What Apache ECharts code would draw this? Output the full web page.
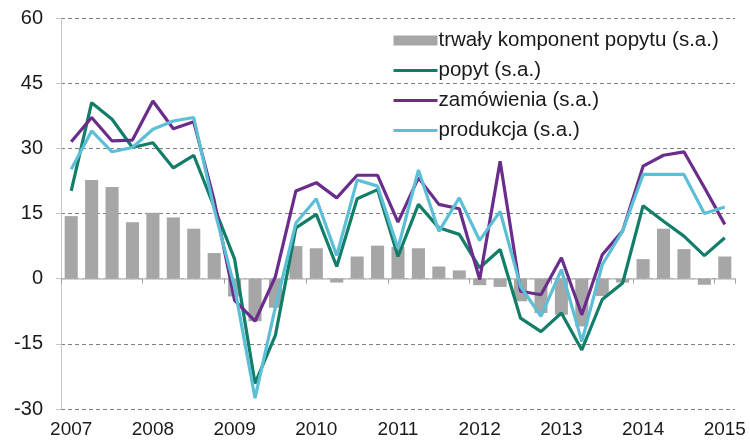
<!DOCTYPE html>
<html>
<head>
<meta charset="utf-8">
<script src="https://cdn.jsdelivr.net/npm/echarts@6/dist/echarts.min.js"></script>
<style>
  html, body { margin: 0; padding: 0; background: #fff; }
  #chart { width: 750px; height: 441px; }
</style>
</head>
<body>
<div id="chart"></div>
<script>
// kwartaly 2007Q1 - 2015Q1
var years = ['2007', '2008', '2009', '2010', '2011', '2012', '2013', '2014', '2015'];
var quarters = [];
for (var y = 0; y < years.length; y++) {
    for (var q = 1; q <= 4; q++) {
        if (years[y] === '2015' && q > 1) break;
        quarters.push(years[y] + ' Q' + q);
    }
}

var seriesNames = ['trwały komponent popytu (s.a.)', 'popyt (s.a.)', 'zamówienia (s.a.)', 'produkcja (s.a.)'];

var trwaly = [14.4, 22.7, 21.1, 13.0, 15.2, 14.1, 11.5, 5.9, -4.1, -9.8, -6.7, 7.5, 7.0, -0.9, 5.1, 7.6,
    7.3, 7.0, 2.8, 1.9, -1.5, -1.9, -5.2, -7.9, -8.3, -11.0, -4.0, -0.9, 4.5, 11.5, 6.8, -1.4, 5.1];
var popyt = [20.2, 40.5, 36.7, 30.2, 31.3, 25.5, 28.4, 16.5, 4.5, -24.1, -13.0, 11.7, 14.8, 2.8, 18.4, 20.5,
    5.1, 17.1, 11.7, 10.2, 2.5, 6.7, -9.1, -12.2, -7.9, -16.4, -4.8, -1.0, 16.8, 13.2, 9.8, 5.3, 9.4];
var zamowienia = [31.5, 37.1, 31.7, 31.9, 40.9, 34.5, 36.1, 18.0, -5.0, -9.8, 0.5, 20.2, 22.1, 18.6, 23.8, 23.8,
    13.0, 23.2, 17.1, 16.1, -0.2, 27.0, -2.9, -3.7, 4.8, -8.3, 5.5, 11.0, 25.9, 28.4, 29.2, 21.0, 12.5];
var produkcja = [25.2, 34.0, 29.2, 30.2, 34.4, 36.3, 37.1, 16.0, -2.0, -27.5, -6.5, 12.8, 18.4, 5.3, 22.7, 21.3,
    7.0, 25.0, 10.9, 18.6, 8.8, 15.5, -1.8, -8.7, 2.1, -14.5, 3.2, 11.0, 24.0, 24.0, 24.0, 15.0, 16.5];

var colors = ['#a6a6a6', '#127d68', '#6a2d8c', '#5cbfd6'];
var fontFamily = "'Liberation Sans', Arial, sans-serif";

var chart = echarts.init(document.getElementById('chart'), null, { renderer: 'canvas' });

function lineSeries(name, data, color) {
    return {
        name: name,
        type: 'line',
        xAxisIndex: 0,
        data: data,
        symbol: 'none',
        smooth: false,
        lineStyle: { color: color, width: 3.2 },
        itemStyle: { color: color },
        animation: false
    };
}

// pozycja legendy z ikona linii (bez kropki)
function lineLegend(name) {
    return { name: name, itemStyle: { opacity: 0 }, lineStyle: { width: 3 } };
}

chart.setOption({
    animation: false,
    textStyle: { fontFamily: fontFamily },
    grid: { left: 61, right: 15, top: 18, bottom: 32 },
    legend: {
        orient: 'vertical',
        left: 387,
        top: 25,
        itemWidth: 44,
        itemHeight: 10,
        itemGap: 9,
        textStyle: { fontSize: 20.5, color: '#1a1a1a', lineHeight: 20, padding: [0, 0, 0, -4] },
        data: [
            { name: seriesNames[0], icon: 'rect' },
            lineLegend(seriesNames[1]),
            lineLegend(seriesNames[2]),
            lineLegend(seriesNames[3])
        ]
    },
    xAxis: [{
        type: 'category',
        data: quarters,
        position: 'bottom',
        boundaryGap: true,
        axisLine: { show: false, onZero: false },
        axisTick: { show: false },
        axisLabel: {
            interval: 3,
            fontSize: 19,
            color: '#1a1a1a',
            margin: 11,
            formatter: function (v) { return v.substring(0, 4); }
        },
        splitLine: { show: false }
    }, {
        type: 'category',
        data: quarters,
        position: 'top',
        boundaryGap: true,
        axisLine: { show: true, onZero: true, lineStyle: { color: '#c4c4c4', width: 1.5 } },
        axisTick: { show: true, inside: true, interval: 3, length: 5, lineStyle: { color: '#a0a0a0' } },
        axisLabel: { show: false },
        splitLine: { show: false }
    }],
    yAxis: {
        type: 'value',
        min: -30,
        max: 60,
        interval: 15,
        axisLine: { show: true, lineStyle: { color: '#c4c4c4', width: 1 } },
        axisTick: { show: true, length: 5, lineStyle: { color: '#c4c4c4' } },
        axisLabel: { fontSize: 20, color: '#1a1a1a', margin: 18 },
        splitLine: { show: true, lineStyle: { color: '#7f7f7f', type: [4, 3], width: 1 } }
    },
    series: [
        {
            name: seriesNames[0],
            type: 'bar',
            xAxisIndex: 0,
            data: trwaly,
            barWidth: '64%',
            itemStyle: { color: colors[0] },
            animation: false
        },
        lineSeries(seriesNames[1], popyt, colors[1]),
        lineSeries(seriesNames[2], zamowienia, colors[2]),
        lineSeries(seriesNames[3], produkcja, colors[3])
    ]
});
</script>
</body>
</html>
